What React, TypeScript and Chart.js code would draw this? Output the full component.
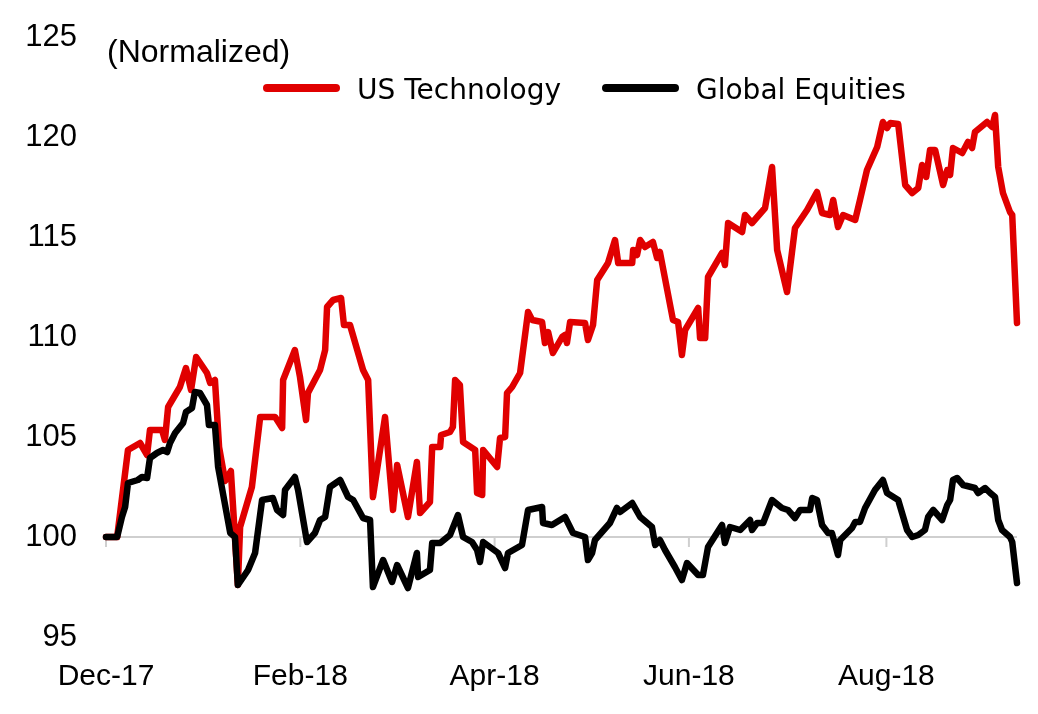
import React, { useEffect, useRef } from 'react';
import { Chart, registerables } from 'chart.js';

Chart.register(...registerables);

const TITLE = '(Normalized)';
const SERIES_NAMES = ['US Technology', 'Global Equities'];
const SERIES_COLORS = ['#E00000', '#000000'];

// x axis: days since 29-Dec-2017
const tickDays = [0, 61, 122, 183, 245];
const tickLabels = ['Dec-17', 'Feb-18', 'Apr-18', 'Jun-18', 'Aug-18'];
const X_MIN = 0;
const X_MAX = 286;
const Y_MIN = 95;
const Y_MAX = 125;
const Y_STEP = 5;
const BASELINE = 100;

const techDays = [0, 3.5, 6.9, 10.7, 12.9, 13.8, 17.6, 18.5, 19.5, 23.2, 25.1, 26.7, 28.3, 31.7, 32.7, 34.2, 35.5, 37.4, 39.2, 41.4, 42.1, 45.8, 48.4, 53.1, 55.3, 55.6, 59.3, 60.9, 62.8, 63.4, 67.2, 68.8, 69.4, 71.3, 73.8, 74.7, 76.6, 80.7, 82.3, 83.8, 87.6, 90.1, 91.4, 94.8, 97.6, 98.6, 101.7, 102.4, 104.9, 105.2, 108.0, 108.9, 109.6, 111.1, 112.1, 115.9, 116.5, 118.1, 118.4, 122.8, 123.7, 125.3, 125.9, 127.5, 130.0, 132.5, 133.8, 136.9, 137.8, 138.8, 140.3, 143.2, 144.1, 144.7, 145.7, 150.4, 151.3, 152.9, 154.2, 157.6, 159.8, 160.8, 165.2, 165.5, 166.7, 167.7, 169.2, 171.7, 173.0, 173.9, 178.0, 179.6, 180.8, 181.8, 185.9, 186.5, 188.1, 189.0, 193.4, 194.3, 195.3, 199.7, 200.6, 202.8, 206.9, 209.1, 210.7, 213.8, 216.3, 220.1, 223.2, 224.8, 227.3, 228.3, 229.8, 231.4, 235.2, 236.7, 238.9, 242.1, 243.9, 245.2, 246.2, 248.7, 250.9, 253.1, 255.0, 256.2, 257.5, 258.7, 260.3, 262.8, 264.1, 265.0, 265.9, 268.8, 270.6, 271.9, 272.8, 276.6, 278.2, 279.1, 280.1, 281.6, 283.8, 284.5, 286];
const techValues = [100, 100, 104.35, 104.7, 104.1, 105.35, 105.35, 104.85, 106.5, 107.5, 108.45, 107.35, 109.0, 108.2, 107.7, 107.85, 104.5, 102.8, 103.3, 97.6, 100.5, 102.5, 106.0, 106.0, 105.45, 107.85, 109.35, 108.0, 105.85, 107.2, 108.35, 109.35, 111.5, 111.85, 111.95, 110.6, 110.6, 108.35, 107.85, 102.0, 106.0, 101.35, 103.6, 101.0, 103.75, 101.2, 101.75, 104.5, 104.5, 105.1, 105.25, 105.5, 107.85, 107.6, 104.75, 104.35, 102.2, 102.1, 104.35, 103.5, 104.95, 105.0, 107.2, 107.5, 108.2, 111.25, 110.85, 110.75, 109.7, 110.25, 109.2, 110.0, 110.1, 109.7, 110.75, 110.7, 109.85, 110.6, 112.85, 113.7, 114.85, 113.7, 113.7, 114.35, 114.1, 114.85, 114.5, 114.75, 113.95, 114.25, 110.85, 110.75, 109.1, 110.35, 111.45, 109.95, 109.95, 113.0, 114.2, 113.6, 115.7, 115.25, 116.1, 115.7, 116.45, 118.5, 114.35, 112.25, 115.45, 116.35, 117.25, 116.2, 116.1, 116.85, 115.5, 116.1, 115.85, 116.85, 118.35, 119.5, 120.75, 120.45, 120.7, 120.65, 117.6, 117.2, 117.45, 118.6, 118.0, 119.35, 119.35, 117.6, 118.35, 118.1, 119.45, 119.2, 119.75, 119.45, 120.25, 120.75, 120.5, 121.1, 118.5, 117.2, 116.25, 116.1, 110.7];

const globalDays = [0, 3.5, 5.0, 6.0, 6.9, 10.0, 11.3, 12.9, 13.8, 16.0, 17.9, 19.2, 20.1, 21.7, 24.2, 25.1, 27.0, 27.9, 29.5, 31.7, 32.3, 34.2, 35.2, 39.0, 40.5, 41.4, 44.6, 46.8, 49.0, 52.4, 53.7, 55.6, 56.2, 59.3, 60.3, 63.1, 65.6, 67.2, 68.8, 70.3, 73.5, 76.0, 77.6, 80.7, 82.9, 83.8, 87.0, 89.8, 91.4, 94.8, 97.6, 98.0, 101.7, 102.4, 104.9, 108.0, 110.5, 112.1, 114.9, 116.5, 117.4, 118.4, 123.1, 125.3, 126.2, 130.6, 132.5, 136.9, 137.2, 140.0, 144.1, 146.6, 150.4, 151.3, 152.6, 153.5, 158.2, 160.4, 161.4, 165.2, 167.7, 171.4, 172.4, 173.9, 175.5, 178.6, 180.8, 182.4, 185.9, 187.4, 189.0, 193.4, 194.3, 195.9, 199.1, 202.2, 202.8, 204.4, 206.3, 209.1, 212.2, 214.1, 216.3, 217.9, 221.0, 221.7, 223.2, 224.8, 226.7, 227.9, 229.8, 230.5, 234.2, 235.2, 236.7, 238.3, 241.4, 243.9, 245.2, 248.7, 251.5, 253.1, 255.0, 257.1, 258.1, 259.7, 262.5, 264.1, 265.0, 265.9, 267.2, 269.1, 272.8, 273.8, 276.0, 277.6, 279.1, 280.1, 281.3, 283.8, 284.5, 286];
const globalValues = [100, 100, 101, 101.5, 102.7, 102.85, 103, 102.95, 103.95, 104.2, 104.35, 104.25, 104.7, 105.2, 105.7, 106.25, 106.45, 107.25, 107.2, 106.6, 105.6, 105.6, 103.5, 100.2, 100, 97.6, 98.35, 99.2, 101.85, 101.95, 101.35, 101.1, 102.35, 103.0, 102.35, 99.75, 100.2, 100.85, 101, 102.5, 102.85, 102.0, 101.85, 100.95, 100.85, 97.5, 98.85, 97.75, 98.6, 97.45, 99.2, 98.0, 98.35, 99.7, 99.7, 100.1, 101.1, 100, 99.75, 99.35, 98.75, 99.75, 99.2, 98.45, 99.2, 99.6, 101.35, 101.5, 100.7, 100.6, 101, 100.2, 100, 98.85, 99.2, 99.85, 100.7, 101.45, 101.25, 101.7, 101, 100.5, 99.6, 99.85, 99.35, 98.5, 97.85, 98.7, 98.1, 98.1, 99.5, 100.6, 99.7, 100.5, 100.35, 100.85, 100.35, 100.7, 100.7, 101.85, 101.45, 101.35, 100.95, 101.35, 101.35, 101.95, 101.85, 100.6, 100.2, 100.2, 99.1, 99.85, 100.45, 100.75, 100.75, 101.45, 102.35, 102.85, 102.2, 101.85, 100.35, 100.0, 100.1, 100.35, 101.0, 101.35, 100.85, 101.6, 101.85, 102.85, 102.95, 102.6, 102.45, 102.2, 102.45, 102.2, 102.0, 100.85, 100.35, 100.0, 99.75, 97.7];

const GRID_COLOR = '#cfcfcf';
const AXIS_FONT = '"Liberation Sans", Arial, sans-serif';
const LEGEND_FONT = '"DejaVu Sans", sans-serif';

const baselinePlugin = {
  id: 'baselineTicks',
  beforeDatasetsDraw(chart: any) {
    const { ctx, scales } = chart;
    const x = scales.x;
    const y = scales.y;
    const py = y.getPixelForValue(BASELINE);
    ctx.save();
    ctx.strokeStyle = GRID_COLOR;
    ctx.lineWidth = 2;
    tickDays.forEach((d) => {
      const px = x.getPixelForValue(d);
      ctx.beginPath();
      ctx.moveTo(px, py);
      ctx.lineTo(px, py + 10);
      ctx.stroke();
    });
    ctx.restore();
  },
};

const legendPlugin = {
  id: 'customLegend',
  afterDraw(chart: any) {
    const ctx = chart.ctx;
    ctx.save();
    ctx.fillStyle = '#000';
    ctx.textAlign = 'left';
    ctx.textBaseline = 'alphabetic';
    ctx.font = '32px ' + AXIS_FONT;
    ctx.fillText(TITLE, 107, 62);

    ctx.font = '28px ' + LEGEND_FONT;
    let x = 263;
    const ly = 88;
    chart.data.datasets.forEach((ds: any) => {
      ctx.strokeStyle = ds.borderColor;
      ctx.lineWidth = 8;
      ctx.lineCap = 'round';
      ctx.beginPath();
      ctx.moveTo(x + 4, ly);
      ctx.lineTo(x + 73, ly);
      ctx.stroke();
      ctx.fillStyle = '#000';
      ctx.fillText(ds.label, x + 94, 99);
      x += 94 + ctx.measureText(ds.label).width + 41;
    });
    ctx.restore();
  },
};

export default function App() {
  const canvasRef = useRef<HTMLCanvasElement | null>(null);

  useEffect(() => {
    document.body.style.margin = '0';
    const canvas = canvasRef.current;
    if (!canvas) return;
    const chart = new Chart(canvas, {
      type: 'line',
      data: {
        datasets: [
          {
            label: SERIES_NAMES[0],
            data: techDays.map((d, i) => ({ x: d, y: techValues[i] })),
            borderColor: SERIES_COLORS[0],
            backgroundColor: SERIES_COLORS[0],
            borderWidth: 6.5,
            pointRadius: 0,
            tension: 0,
            borderJoinStyle: 'round',
            borderCapStyle: 'round',
            clip: false,
            order: 2,
          },
          {
            label: SERIES_NAMES[1],
            data: globalDays.map((d, i) => ({ x: d, y: globalValues[i] })),
            borderColor: SERIES_COLORS[1],
            backgroundColor: SERIES_COLORS[1],
            borderWidth: 6.5,
            pointRadius: 0,
            tension: 0,
            borderJoinStyle: 'round',
            borderCapStyle: 'round',
            clip: false,
            order: 1,
          },
        ],
      },
      options: {
        animation: false,
        responsive: false,
        layout: { padding: { left: 0, right: 21, top: 37, bottom: 0 } },
        plugins: {
          legend: { display: false },
          tooltip: { enabled: false },
        },
        scales: {
          x: {
            type: 'linear',
            min: X_MIN,
            max: X_MAX,
            grid: { display: false, drawTicks: false },
            border: { display: false },
            afterBuildTicks: (scale: any) => {
              scale.ticks = tickDays.map((v) => ({ value: v }));
            },
            afterFit: (scale: any) => {
              scale.height = 77;
            },
            ticks: {
              autoSkip: false,
              maxRotation: 0,
              padding: 22,
              color: '#000',
              font: { family: AXIS_FONT, size: 30 },
              callback: (_v: any, i: number) => tickLabels[i],
            },
          },
          y: {
            type: 'linear',
            min: Y_MIN,
            max: Y_MAX,
            border: { display: false },
            grid: {
              drawTicks: false,
              lineWidth: 2,
              color: (c: any) => (c.tick && c.tick.value === BASELINE ? GRID_COLOR : 'rgba(0,0,0,0)'),
            },
            afterFit: (scale: any) => {
              scale.width = 106;
              scale.paddingTop = 0;
              scale.paddingBottom = 0;
            },
            ticks: {
              stepSize: Y_STEP,
              padding: 29,
              color: '#000',
              font: { family: AXIS_FONT, size: 31 },
            },
          },
        },
      },
      plugins: [baselinePlugin, legendPlugin],
    } as any);
    return () => chart.destroy();
  }, []);

  return (
    <div style={{ width: 1038, height: 714, background: '#fff' }}>
      <canvas ref={canvasRef} width={1038} height={714} />
    </div>
  );
}
